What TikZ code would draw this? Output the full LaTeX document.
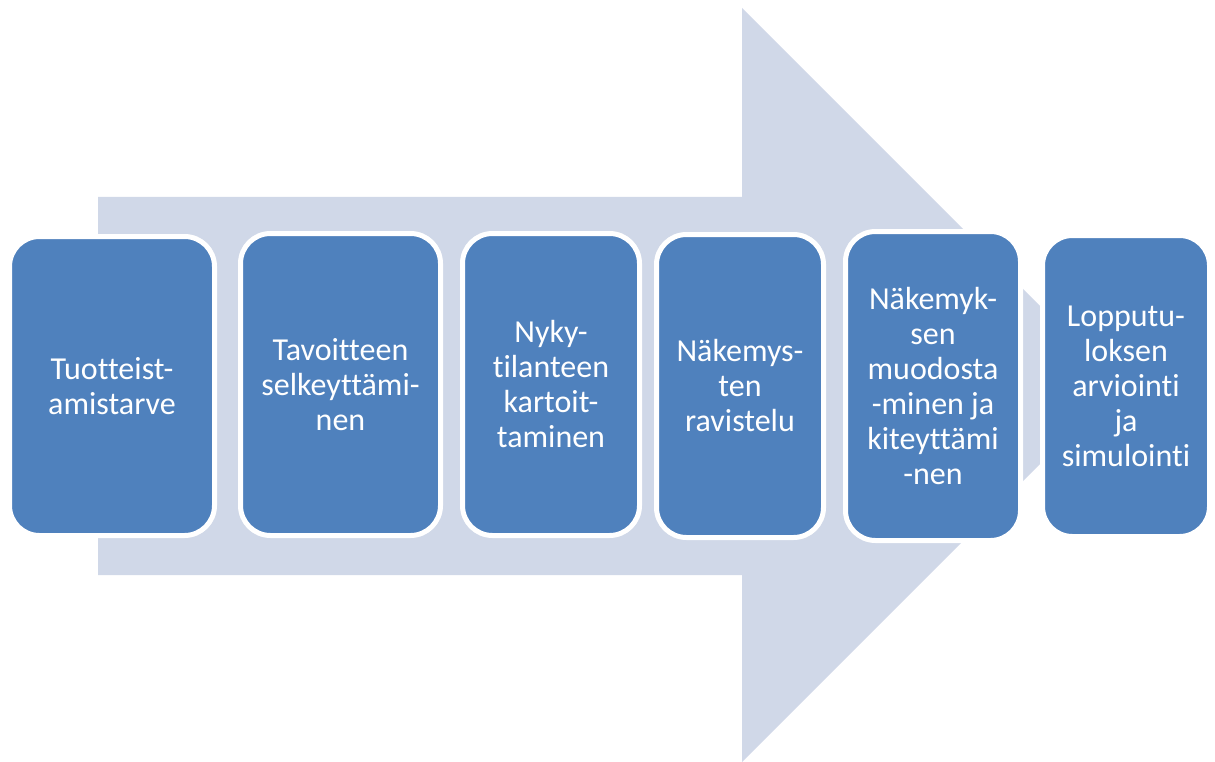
\documentclass[tikz,border=0pt]{standalone}
\usepackage{fontspec}
\setmainfont[Ligatures=NoCommon]{Carlito}
\definecolor{arrowgray}{HTML}{D0D8E8}
\definecolor{phaseblue}{HTML}{4F81BD}
\begin{document}
\begin{tikzpicture}[x=1pt,y=-1pt]
        \tikzstyle{phase}=[rectangle,rounded corners=30pt,draw=white,line width=5pt,fill=phaseblue,text=white,align=center,inner sep=0pt,font=\fontsize{32}{35}\selectfont]
        \tikzstyle{bigarrow}=[fill=arrowgray,draw=none]
        \useasboundingbox (0,0) rectangle (1215,762);
        % taustanuoli
        \path[bigarrow] (98,197) -- (742,197) -- (742,8) -- (1119,385) -- (742,762) -- (742,575) -- (98,575) -- cycle;
        \begin{scope}
                \node [phase,minimum width=205pt,minimum height=299pt] (p1) at (112,386) {Tuotteist-\\amistarve};
                \node [phase,minimum width=200pt,minimum height=302pt] (p2) at (340.5,384.5) {Tavoitteen\\selkeyttämi-\\nen};
                \node [phase,minimum width=177pt,minimum height=302pt] (p3) at (551,384.5) {Nyky-\\tilanteen\\kartoit-\\taminen};
                \node [phase,minimum width=167pt,minimum height=303pt] (p4) at (740,386) {Näkemys-\\ten\\ravistelu};
                \node [phase,minimum width=175pt,minimum height=309pt] (p5) at (933,386) {Näkemyk-\\sen\\muodosta\\-minen ja\\kiteyttämi\\-nen};
                \node [phase,minimum width=167pt,minimum height=301pt] (p6) at (1126,386) {Lopputu-\\loksen\\arviointi\\ja\\simulointi};
        \end{scope}
\end{tikzpicture}
\end{document}
